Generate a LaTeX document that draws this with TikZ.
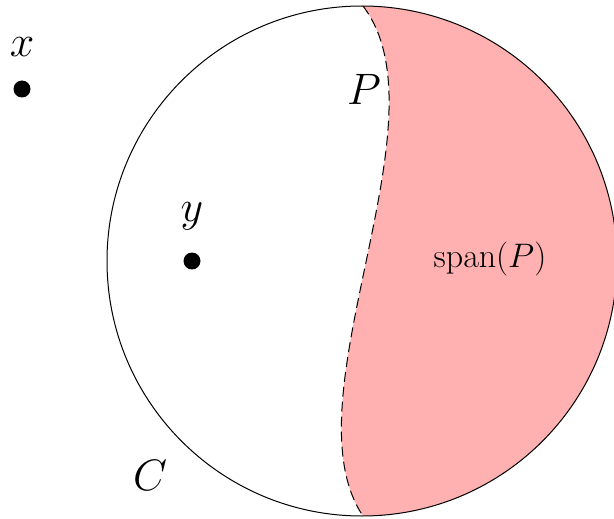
\RequirePackage{fix-cm}
\documentclass[tikz,border=0pt]{standalone}
\definecolor{spanred}{RGB}{255,176,176}
\begin{document}
\begin{tikzpicture}[x=1pt,y=-1pt,
  bigtxt/.style={inner sep=0pt,anchor=base,font=\fontsize{44}{50}\selectfont},
  midtxt/.style={inner sep=0pt,anchor=base,font=\fontsize{34}{40}\selectfont},
  dotmark/.style={circle,fill=black,inner sep=0pt,minimum size=17pt},
  rim/.style={line width=1pt},
  boundary/.style={line width=1pt,dash pattern=on 10pt off 5pt}]
\useasboundingbox (0,0) rectangle (614,519);
\coordinate (top) at (363,6);
\coordinate (bot) at (363,516);
\begin{scope}
  \clip (362,261) circle[radius=255];
  \fill[spanred] (top) .. controls (450,120) and (285,400) .. (bot) -- (700,516) -- (700,6) -- cycle;
\end{scope}
\draw[rim] (362,261) circle[radius=255];
\draw[boundary] (top) .. controls (450,120) and (285,400) .. (bot);
\node[dotmark] (xd) at (22,89) {};
\node[bigtxt] (xl) at (22,57) {$x$};
\node[dotmark] (yd) at (192,261) {};
\node[bigtxt] (yl) at (192,221) {$y$};
\node[bigtxt] (pl) at (364,105) {$P$};
\node[bigtxt] (cl) at (150,490) {$C$};
\node[midtxt] (sl) at (490,267) {$\mathrm{span}(P)$};
\end{tikzpicture}
\end{document}
